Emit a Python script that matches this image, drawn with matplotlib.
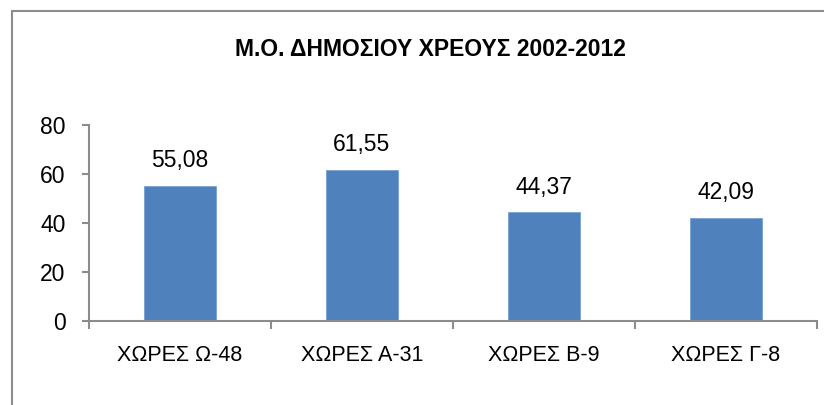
import matplotlib.pyplot as plt
from matplotlib.patches import Rectangle

# Δεδομένα
categories = ['ΧΩΡΕΣ Ω-48', 'ΧΩΡΕΣ Α-31', 'ΧΩΡΕΣ Β-9', 'ΧΩΡΕΣ Γ-8']
values = [55.08, 61.55, 44.37, 42.09]
title = 'Μ.Ο. ΔΗΜΟΣΙΟΥ ΧΡΕΟΥΣ 2002-2012'

plt.rcParams['font.family'] = ['Liberation Sans', 'DejaVu Sans']
gray = '#8c8c8c'

fig = plt.figure(figsize=(8.24, 4.05), dpi=100)
ax = fig.add_axes([0.108, 0.2074, 0.8835, 0.484])

x = list(range(len(categories)))
bars = ax.bar(x, values, width=0.4, color='#4F81BD', edgecolor='#6f9bd1', linewidth=0.5)

for xi, v in zip(x, values):
    ax.annotate(f'{v:.2f}'.replace('.', ','), (xi, v), xytext=(0, 13.5),
                textcoords='offset points', ha='center', va='baseline', fontsize=16.5)

ax.set_xlim(-0.5, len(categories) - 0.5)
ax.set_ylim(0, 80)
ax.set_yticks([0, 20, 40, 60, 80])
ax.tick_params(axis='y', labelsize=16.5, length=5, width=1.5, color=gray, pad=12)

# ticks at category borders, labels at centres
ax.set_xticks([i - 0.5 for i in range(len(categories) + 1)])
ax.set_xticklabels([])
ax.set_xticks(x, minor=True)
ax.set_xticklabels(categories, minor=True, fontsize=15.5)
ax.tick_params(axis='x', which='major', length=6, width=1.5, color=gray, direction='out')
ax.tick_params(axis='x', which='minor', length=0, pad=17)

for s in ['top', 'right']:
    ax.spines[s].set_visible(False)
for s in ['left', 'bottom']:
    ax.spines[s].set_color(gray)
    ax.spines[s].set_linewidth(1.5)

fig.text(430 / 824, 1 - 50 / 405, title, ha='center', va='center',
         fontsize=16.5, fontweight='bold')

# outer chart frame (right/bottom edges fall outside the image)
fig.patches.append(Rectangle((12 / 824, -0.1), 1.0, 1 - 11 / 405 + 0.1,
                             transform=fig.transFigure, fill=False,
                             edgecolor=gray, linewidth=1.5))

fig.savefig('out.png', dpi=100)
